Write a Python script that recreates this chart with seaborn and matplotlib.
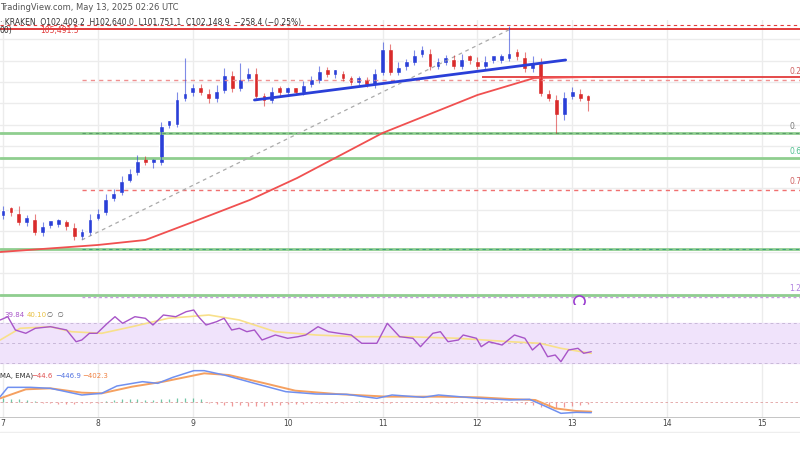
import numpy as np
import pandas as pd
import matplotlib
matplotlib.use("Agg")
import matplotlib.pyplot as plt
import seaborn as sns

# --- data ---
first_open = 96750
closes = [96984, 96890, 96420, 96608, 95950, 96279, 96326, 96420, 96232, 95762,
          95950, 96608, 96890, 97548, 97830, 98394, 98770, 99334, 99240, 99240,
          100979, 101026, 102248, 102530, 102718, 102530, 102248, 102624, 103376, 102718,
          103188, 103470, 102342, 102154, 102624, 102530, 102624, 102530, 102906, 103094,
          103564, 103376, 103376, 103188, 103000, 103094, 102906, 103470, 104598, 103470,
          103752, 103940, 104316, 104410, 103752, 103940, 104128, 103752, 104128, 104034,
          103752, 104034, 104034, 104128, 104410, 104222, 103658, 103940, 102483, 102248,
          101496, 102342, 102530, 102248, 102149]
wick_hi = [200, 150, 300, 150, 200, 150, 100, 150, 100, 150,
           150, 200, 150, 200, 150, 200, 150, 250, 200, 150,
           150, 150, 300, 1600, 200, 200, 150, 250, 300, 150,
           700, 200, 200, 150, 150, 200, 150, 100, 150, 200,
           200, 150, 200, 150, 100, 200, 150, 150, 300, 200,
           200, 150, 200, 300, 150, 200, 150, 150, 200, 150,
           150, 200, 150, 200, 1200, 150, 200, 300, 200, 150,
           150, 200, 250, 150, 150]
wick_lo = [200, 200, 150, 200, 150, 200, 150, 150, 200, 200,
           150, 150, 100, 150, 150, 150, 100, 150, 150, 300,
           150, 150, 150, 150, 200, 150, 250, 200, 150, 200,
           150, 150, 200, 300, 150, 200, 150, 150, 150, 150,
           150, 150, 200, 150, 150, 150, 150, 200, 150, 150,
           150, 200, 150, 150, 200, 150, 150, 150, 150, 200,
           150, 150, 150, 150, 150, 200, 200, 200, 150, 150,
           900, 300, 150, 150, 500]

ma_days = [6.97, 8.0, 8.5, 9.0, 9.6, 10.1, 11.0, 12.0, 12.6, 13.2]
ma_vals = [95010, 95340, 95574, 96420, 97454, 98488, 100603, 102389, 103188, 103235]

rsi_days = [6.97, 7.05, 7.13, 7.24, 7.34, 7.5, 7.67, 7.77, 7.83, 7.91, 7.99, 8.1, 8.18, 8.26, 8.39,
            8.5, 8.58, 8.69, 8.82, 8.93, 9.01, 9.06, 9.14, 9.25, 9.33, 9.41, 9.49, 9.57, 9.65, 9.73,
            9.87, 10.0, 10.11, 10.19, 10.32, 10.43, 10.54, 10.67, 10.78, 10.94, 11.05, 11.18, 11.32, 11.4, 11.53,
            11.61, 11.69, 11.8, 11.85, 11.99, 12.04, 12.12, 12.26, 12.39, 12.5, 12.58, 12.66, 12.74, 12.82, 12.88,
            12.96, 13.06, 13.12, 13.2]
rsi_vals = [73, 76.3, 63, 59.7, 64.7, 66.3, 63, 51.3, 53, 59.7, 59.7, 69.7, 76.3, 69.7, 76.3,
            74.7, 68, 78, 76.3, 81.3, 83, 76.3, 68, 71.3, 74.7, 63, 64.7, 61.3, 63, 53,
            58, 54.7, 56.3, 58, 66.3, 61.3, 59.7, 58, 49.7, 49.7, 69.7, 56.3, 54.7, 46.3, 59.7,
            61.3, 51.3, 53, 58, 54.7, 46.3, 51.3, 48, 58, 54.7, 43, 49.7, 36.3, 38, 31.3,
            43, 44.7, 39.7, 41.3]
rsi_ma_days = [6.97, 7.18, 7.5, 7.72, 8.04, 8.36, 8.74, 9.17, 9.49, 9.87, 10.3, 10.73, 11.26, 11.8, 12.34, 12.66, 12.88, 13.2]
rsi_ma_vals = [53, 64.7, 66.3, 61.3, 59.7, 66.3, 74.7, 78, 73, 61.3, 58, 56.3, 56.3, 54.7, 51.3, 49.7, 44.7, 39.7]

macd_days = [6.97, 7.05, 7.29, 7.5, 7.83, 8.04, 8.2, 8.47, 8.63, 8.79, 9.01, 9.12, 9.33, 9.65, 9.98, 10.3,
             10.62, 10.94, 11.1, 11.43, 11.59, 12.02, 12.34, 12.55, 12.71, 12.88, 13.04, 13.2]
macd_vals = [238, 630, 630, 588, 308, 378, 686, 868, 798, 1050, 1330, 1330, 1148, 798, 448, 350,
             336, 168, 308, 210, 308, 168, 98, 126, -154, -462, -420, -434]
sig_days = [6.97, 7.24, 7.5, 7.83, 8.04, 8.36, 8.69, 9.12, 9.38, 9.76, 10.08, 10.51, 11.05, 11.59, 12.02, 12.34, 12.61, 12.82, 13.04, 13.2]
sig_vals = [168, 546, 588, 406, 378, 658, 868, 1218, 1148, 798, 490, 350, 238, 238, 210, 140, 98, -252, -364, -392]
hist_vals = [180, 150, 120, 80, 40,
             -20, -40, -60, -60, -50, -40, -30, -10,
             40, 80, 120, 140, 120, 100, 110, 140, 160, 180, 200, 180, 120,
             -40, -80, -120, -140, -130, -140, -150, -140, -120, -100, -80, -60, -50, -40, -30, -40, -20, -10, 20, 40, 30, 10, -10, -20, 10,
             20, 30, 20, -10, -20, -30, -20, -10, 10, -10, -20, -30, -10, 10,
             -20, -60, -120, -180, -200, -220, -180, -140, -100, -60]

red_top = 105491.5
fib_lines = {"0.236": 103235, "0.382": 100600, "0.5": 99420, "0.618": 97920, "1": 95140, "1.272": 93000, "1.618": 92390}
trend_days = [9.65, 12.93]
trend_vals = [102154, 104034]
fib_diag_days = [7.83, 12.35]
fib_diag_vals = [95574, 105491]
day_ticks = [7, 8, 9, 10, 11, 12, 13, 14, 15]

# --- figure ---
sns.set_style("white")
W, H = 800, 450
fig = plt.figure(figsize=(8, 4.5), dpi=100)
xlim = (6.968, 15.40)

def add_ax(top, bottom):
    ax = fig.add_axes([0, 1 - bottom / H, 1, (bottom - top) / H])
    ax.set_xlim(*xlim)
    for s in ax.spines.values():
        s.set_visible(False)
    ax.set_xticks(day_ticks)
    ax.tick_params(length=0, labelbottom=False, labelleft=False)
    ax.grid(True, color="#ececec", lw=1)
    return ax

# main price panel
ax = add_ax(20, 305)
ax.set_ylim(92519, 105914)
ax.set_yticks(np.arange(93000, 106000, 1000))

n = len(closes)
t = 7.0 + np.arange(n) / 12
opens = [first_open] + closes[:-1]
df = pd.DataFrame({"t": t, "o": opens, "c": closes})
df["h"] = df[["o", "c"]].max(axis=1) + wick_hi
df["l"] = df[["o", "c"]].min(axis=1) - wick_lo
df["up"] = df["c"] >= df["o"]
col = np.where(df["up"], "#2a3fd8", "#d92b2b")

ax.axhline(red_top, color="#e23b3b", lw=1.4)
ax.axhline(red_top + 180, color="#e23b3b", lw=0.8, ls=(0, (3, 3)))
ax.hlines(fib_lines["0.236"] - 120, 7.83, xlim[1], color="#f09090", lw=1, ls=(0, (3, 3)))
ax.hlines(fib_lines["0.236"], 12.05, xlim[1], color="#e23b3b", lw=1.3)
ax.axhline(fib_lines["0.382"], color="#8fce8f", lw=2)
ax.hlines(fib_lines["0.382"], 7.83, xlim[1], color="#5a9a6a", lw=0.8, ls=(0, (3, 3)))
ax.axhline(fib_lines["0.5"], color="#8fce8f", lw=2)
ax.hlines(fib_lines["0.618"], 7.83, xlim[1], color="#f07070", lw=1, ls=(0, (3, 3)))
ax.axhline(fib_lines["1"], color="#8fce8f", lw=2)
ax.hlines(fib_lines["1"], 7.83, xlim[1], color="#3f9f7f", lw=0.8, ls=(0, (3, 3)))
ax.axhline(fib_lines["1.272"], color="#8fce8f", lw=2)
ax.hlines(fib_lines["1.272"] - 120, 7.83, xlim[1], color="#c79be0", lw=1, ls=(0, (2, 2)))
ax.axhline(fib_lines["1.618"], color="#8fce8f", lw=2)

sns.lineplot(x=fib_diag_days, y=fib_diag_vals, ax=ax, color="#aaaaaa", lw=0.9, linestyle=(0, (3, 3)))
sns.lineplot(x=ma_days, y=ma_vals, ax=ax, color="#f05050", lw=1.3)
ax.vlines(df["t"], df["l"], df["h"], color=col, lw=0.8, alpha=0.6)
ax.bar(df["t"], (df["c"] - df["o"]).abs().clip(lower=280), bottom=df[["o", "c"]].min(axis=1) - 60,
       width=0.05, color=col)
sns.lineplot(x=trend_days, y=trend_vals, ax=ax, color="#2a3fd8", lw=2)
ax.plot([13.07], [fib_lines["1.618"] + 300], "o", ms=8, mfc="white", mec="#9b3fd0", mew=1.2)

for lbl, y, c in [("0.23", fib_lines["0.236"] + 60, "#d06060"), ("0.", fib_lines["0.382"] + 120, "#777777"),
                  ("0.6", fib_lines["0.5"] + 120, "#4fc08f"), ("0.7", fib_lines["0.618"] + 200, "#d06060"),
                  ("1.2", fib_lines["1.272"] + 60, "#b080e0")]:
    ax.text(15.29, y, lbl, fontsize=5.5, color=c, va="bottom")

fig.text(0.0, 1 - 8 / H, "TradingView.com, May 13, 2025 02:26 UTC", fontsize=6, color="#555555", va="center")
fig.text(0.0, 1 - 22 / H, "· KRAKEN  O102,409.2  H102,640.0  L101,751.1  C102,148.9  −258.4 (−0.25%)",
         fontsize=5.5, color="#333333", va="center")
fig.text(0.0, 1 - 30 / H, "00)", fontsize=5.5, color="#333333", va="center")
fig.text(0.05, 1 - 30 / H, "105,491.5", fontsize=5.5, color="#e23b3b", va="center")

# RSI panel
ax2 = add_ax(305, 368)
ax2.set_ylim(25, 88)
ax2.set_yticks([40, 60])
ax2.axhspan(30, 70, color="#f0e3fb")
for lv in [30, 50, 70]:
    ax2.axhline(lv, color="#c8b8d8", lw=0.7, ls=(0, (3, 3)))
sns.lineplot(x=rsi_ma_days, y=rsi_ma_vals, ax=ax2, color="#f8e08a", lw=1.2)
sns.lineplot(x=rsi_days, y=rsi_vals, ax=ax2, color="#a855c8", lw=1)
ax2.text(7.01, 78, "39.84", fontsize=5, color="#a855c8", va="center")
ax2.text(7.25, 78, "40.10", fontsize=5, color="#e8c040", va="center")
ax2.text(7.46, 78, "∅  ∅", fontsize=5, color="#555", va="center")

# MACD panel
ax3 = add_ax(368, 418)
ax3.set_ylim(-658, 1442)
ax3.set_yticks([])
ax3.axhline(0, color="#e0a0a0", lw=0.6, ls=(0, (3, 3)))
hcol = np.where(np.array(hist_vals) >= 0, "#4fb890", "#ee7f7f")
ax3.vlines(t, 0, hist_vals, colors=hcol, lw=0.9, alpha=0.8)
sns.lineplot(x=sig_days, y=sig_vals, ax=ax3, color="#f5a060", lw=1.4)
sns.lineplot(x=macd_days, y=macd_vals, ax=ax3, color="#7090f0", lw=1.1)
ax3.text(6.97, 1100, "MA, EMA)", fontsize=5, color="#333", va="center")
ax3.text(7.3, 1100, "−44.6", fontsize=5, color="#e05050", va="center")
ax3.text(7.55, 1100, "−446.9", fontsize=5, color="#5070e0", va="center")
ax3.text(7.83, 1100, "−402.3", fontsize=5, color="#f08040", va="center")
ax3.axhline(-640, color="#bbbbbb", lw=1.2)

# date axis
ax4 = fig.add_axes([0, 1 - 433 / H, 1, 15 / H])
ax4.set_xlim(*xlim)
ax4.set_ylim(0, 1)
for s in ax4.spines.values():
    s.set_visible(False)
ax4.set_yticks([])
ax4.set_xticks(day_ticks)
ax4.set_xticklabels([str(d) for d in day_ticks], fontsize=5.5, color="#444")
ax4.tick_params(length=0, pad=-10)
ax4.axhline(0.05, color="#eeeeee", lw=1)

fig.savefig("out.png", dpi=100)
